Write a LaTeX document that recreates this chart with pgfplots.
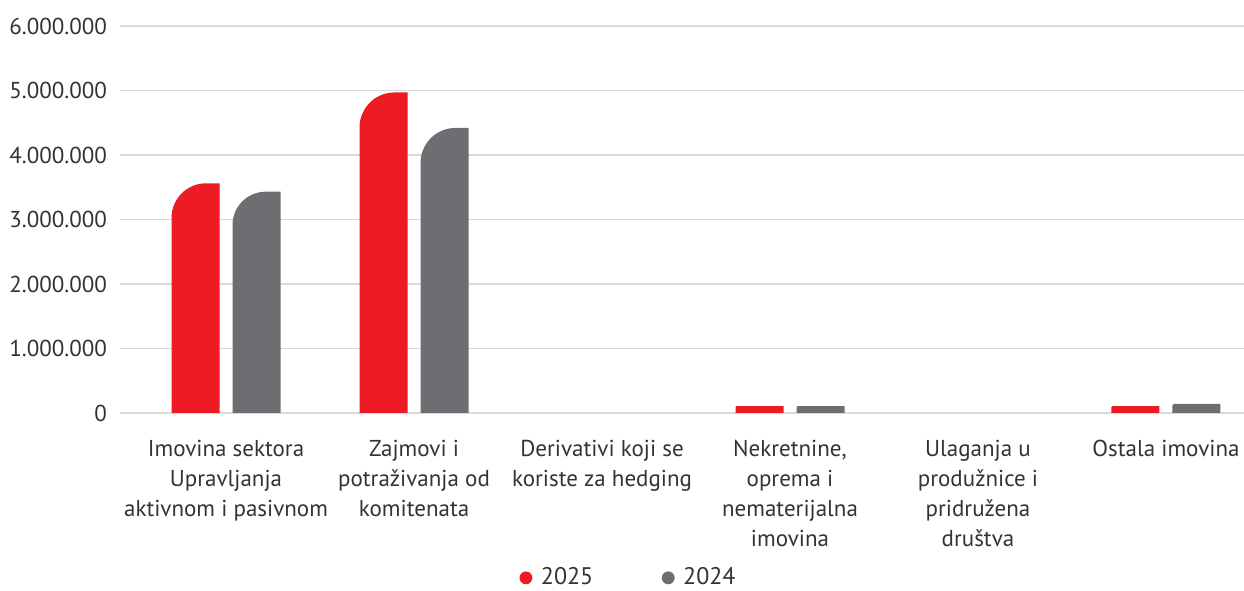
\documentclass[border=0pt]{standalone}
\usepackage{pgfplots}
\pgfplotsset{compat=1.18}
\usepackage{fontspec}
\setmainfont{PT Sans}

\definecolor{c2025}{HTML}{ED1C24}
\definecolor{c2024}{HTML}{6D6E71}
\definecolor{cgrid}{HTML}{D9D9D9}
\definecolor{ctext}{HTML}{333333}

% bar with a rounded top-left corner, drawn down from the data point to y=0
\def\plotH{193.5}
\def\barW{24}
\def\barR{17.5}
\def\barOff{0}
\pgfdeclareplotmark{rbar}{%
  \pgfkeys{/pgf/fpu=false}%
  \pgfmathsetmacro\bh{\pgfplotspointmetatransformed/1000*\plotH}%
  \ifdim\bh pt>0.05pt
    \pgfmathsetmacro\br{min(\barR,0.15*\bh)}%
    \pgfmathsetmacro\bxl{\barOff-\barW/2}%
    \pgfmathsetmacro\bxr{\barOff+\barW/2}%
    \pgfpathmoveto{\pgfqpoint{\bxl pt}{-\bh pt}}%
    \pgfpathlineto{\pgfqpoint{\bxl pt}{-\br pt}}%
    \pgfpatharc{180}{90}{\br pt}%
    \pgfpathlineto{\pgfqpoint{\bxr pt}{0pt}}%
    \pgfpathlineto{\pgfqpoint{\bxr pt}{-\bh pt}}%
    \pgfpathclose
    \pgfusepathqfill
  \fi
}

\pgfplotsset{
  roundbars/.style={only marks, scatter, mark=rbar, forget plot,
    point meta=y, point meta min=0, point meta max=6000000,
    scatter/@post marker code/.code={}},
}

\begin{document}
\begin{tikzpicture}
\begin{axis}[
  scale only axis, width=562pt, height=193.5pt,
  xmin=-0.564, xmax=5.415, ymin=0, ymax=6000000,
  axis line style={draw=none}, major tick length=0pt,
  scaled y ticks=false,
  ytick={0,1000000,2000000,3000000,4000000,5000000,6000000},
  yticklabels={0,1.000.000,2.000.000,3.000.000,4.000.000,5.000.000,6.000.000},
  ymajorgrids, grid style={cgrid, line width=0.8pt},
  xtick={0,1,2,3,4,5},
  xticklabels={
    {Imovina sektora\\Upravljanja\\aktivnom i pasivnom},
    {Zajmovi i\\potraživanja od\\komitenata},
    {Derivativi koji se\\koriste za hedging},
    {Nekretnine,\\oprema i\\nematerijalna\\imovina},
    {Ulaganja u\\produžnice i\\pridružena\\društva},
    {Ostala imovina}},
  tick label style={font=\fontsize{11.5}{15}\selectfont, text=ctext},
  xticklabel style={align=center, yshift=-10pt},
  yticklabel style={xshift=-3pt},
  legend columns=2,
  legend style={at={(0.4535,-0.426)}, anchor=center, draw=none,
    font=\fontsize{12}{14}\selectfont, text=ctext,
    /tikz/every odd column/.append style={column sep=2.5pt},
    /tikz/every even column/.append style={column sep=32.5pt}},
]
\addlegendimage{only marks, mark=*, mark size=3pt, c2025}
\addlegendentry{2025}
\addlegendimage{only marks, mark=*, mark size=3pt, c2024}
\addlegendentry{2024}

\addplot[roundbars, color=c2025, scatter/@pre marker code/.code={\def\barOff{-15.25}}]
  coordinates {(0,3561000) (1,4970000) (2,0) (3,108000) (4,0) (5,108000)};
\addplot[roundbars, color=c2024, scatter/@pre marker code/.code={\def\barOff{15.25}}]
  coordinates {(0,3431000) (1,4420000) (2,0) (3,108000) (4,0) (5,140000)};

\coordinate (bbsw) at (rel axis cs:-0.10676,-0.4574);
\coordinate (bbne) at (rel axis cs:1,1.0672);
\end{axis}
\pgfresetboundingbox
\useasboundingbox (bbsw) rectangle (bbne);
\end{tikzpicture}
\end{document}
